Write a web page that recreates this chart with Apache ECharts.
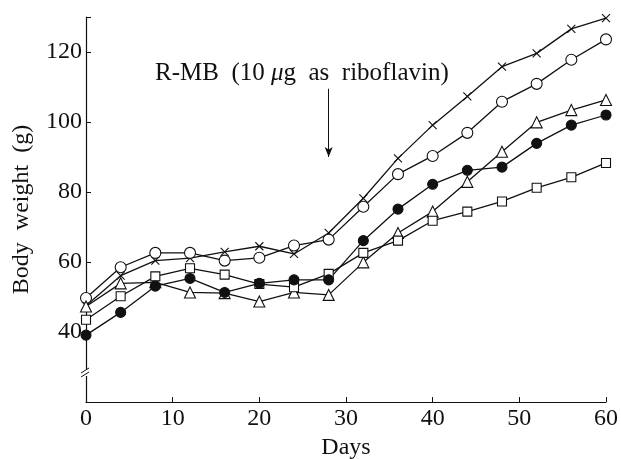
<!DOCTYPE html>
<html>
<head>
<meta charset="utf-8">
<script src="https://cdn.jsdelivr.net/npm/echarts@6/dist/echarts.min.js"></script>
<style>html,body{margin:0;padding:0;background:#fff}#c{width:621px;height:459px}</style>
</head>
<body>
<div id="c"></div>
<script>
const days = [0,4,8,12,16,20,24,28,32,36,40,44,48,52,56,60];
const crossVals   = [47.5,56.1,60.4,61.1,62.9,64.5,62.3,68.3,78.2,89.6,99.1,107.3,115.8,119.6,126.6,129.7];
const circleVals  = [49.7,58.5,62.6,62.6,60.4,61.2,64.7,66.4,75.8,85.1,90.3,96.9,105.8,110.9,117.8,123.6];
const triangleVals= [47.3,53.9,54.2,51.3,51.1,48.7,51.3,50.6,59.9,68.3,74.4,82.9,91.5,99.9,103.4,106.3];
const filledVals  = [39.1,45.6,53.1,55.3,51.3,53.9,54.9,54.9,66.1,75.1,82.2,86.2,87.1,93.9,99.1,102.0];
const squareVals  = [43.5,50.2,55.9,58.2,56.4,53.7,52.8,56.6,62.6,66.1,71.8,74.4,77.3,81.2,84.2,88.3];
const yTicks = [40,60,80,100,120];
const arrowDay = 28, arrowFrom = 109.5, arrowTo = 90;

const font = '"Liberation Serif","DejaVu Serif",serif';
const chart = echarts.init(document.getElementById('c'));
function mk(vals, symbol, fill, size){
  return {
    type:'line', data: days.map((d,i)=>[d, vals[i]]), symbol: symbol, symbolSize: size,
    showSymbol:true,
    lineStyle:{color:'#111', width:1.3},
    itemStyle:{color: fill, borderColor:'#111', borderWidth:1.1},
    z: 3
  };
}
const crossPath = 'path://M0,0L10,10M10,0L0,10';
const series = [
  mk(crossVals, crossPath, 'none', 8),
  mk(circleVals, 'circle', '#fff', 11),
  mk(triangleVals, 'triangle', '#fff', 11),
  mk(squareVals, 'rect', '#fff', 9),
  mk(filledVals, 'circle', '#111', 10)
];
series[0].markLine = {
  silent:true, symbol:['none','arrow'], symbolSize:[6,10],
  lineStyle:{color:'#111', width:1, type:'solid'}, label:{show:false},
  data:[[{coord:[arrowDay, arrowFrom]},{coord:[arrowDay, arrowTo]}]]
};
chart.setOption({
  animation:false,
  backgroundColor:'#fff',
  grid:{left:86, right:15, top:17, bottom:57, containLabel:false, outerBoundsMode:'none'},
  xAxis:{
    type:'value', min:0, max:60, interval:10,
    name:'Days', nameLocation:'middle', nameGap:30,
    nameTextStyle:{fontFamily:font, fontSize:24, color:'#111'},
    axisLine:{lineStyle:{color:'#111', width:1.2}},
    axisTick:{inside:true, length:5, lineStyle:{color:'#111'}},
    axisLabel:{fontFamily:font, fontSize:24, color:'#111', margin:5},
    splitLine:{show:false}
  },
  yAxis:{
    type:'value', min:20, max:130, interval:20,
    name:'Body  weight  (g)', nameLocation:'middle', nameGap:52,
    nameTextStyle:{fontFamily:font, fontSize:24, color:'#111'},
    axisLine:{lineStyle:{color:'#111', width:1.2}},
    axisTick:{inside:true, length:5, lineStyle:{color:'#111'}},
    axisLabel:{fontFamily:font, fontSize:24, color:'#111', margin:4,
      formatter:v=> yTicks.indexOf(v)>=0 ? String(v) : ''},
    splitLine:{show:false}
  },
  series: series
});
// annotation text and axis break
const p = chart.convertToPixel({gridIndex:0}, [0, 28]);
chart.setOption({graphic:[
  {type:'text', left:155, top:61, style:{
    text:'{a|R-MB  (10 }{m|μ}{a|g  as  riboflavin)}',
    rich:{a:{fontFamily:font, fontSize:25, fill:'#111'}, m:{fontFamily:font, fontSize:25, fontStyle:'italic', fill:'#111'}}
  }},
  {type:'rect', shape:{x:p[0]-5, y:p[1]-4, width:10, height:6}, style:{fill:'#fff'}, z:10},
  {type:'line', shape:{x1:p[0]-5, y1:p[1]-1, x2:p[0]+3, y2:p[1]-6}, style:{stroke:'#111', lineWidth:1}, z:11},
  {type:'line', shape:{x1:p[0]-5, y1:p[1]+3, x2:p[0]+3, y2:p[1]-2}, style:{stroke:'#111', lineWidth:1}, z:11}
]});
</script>
</body>
</html>
